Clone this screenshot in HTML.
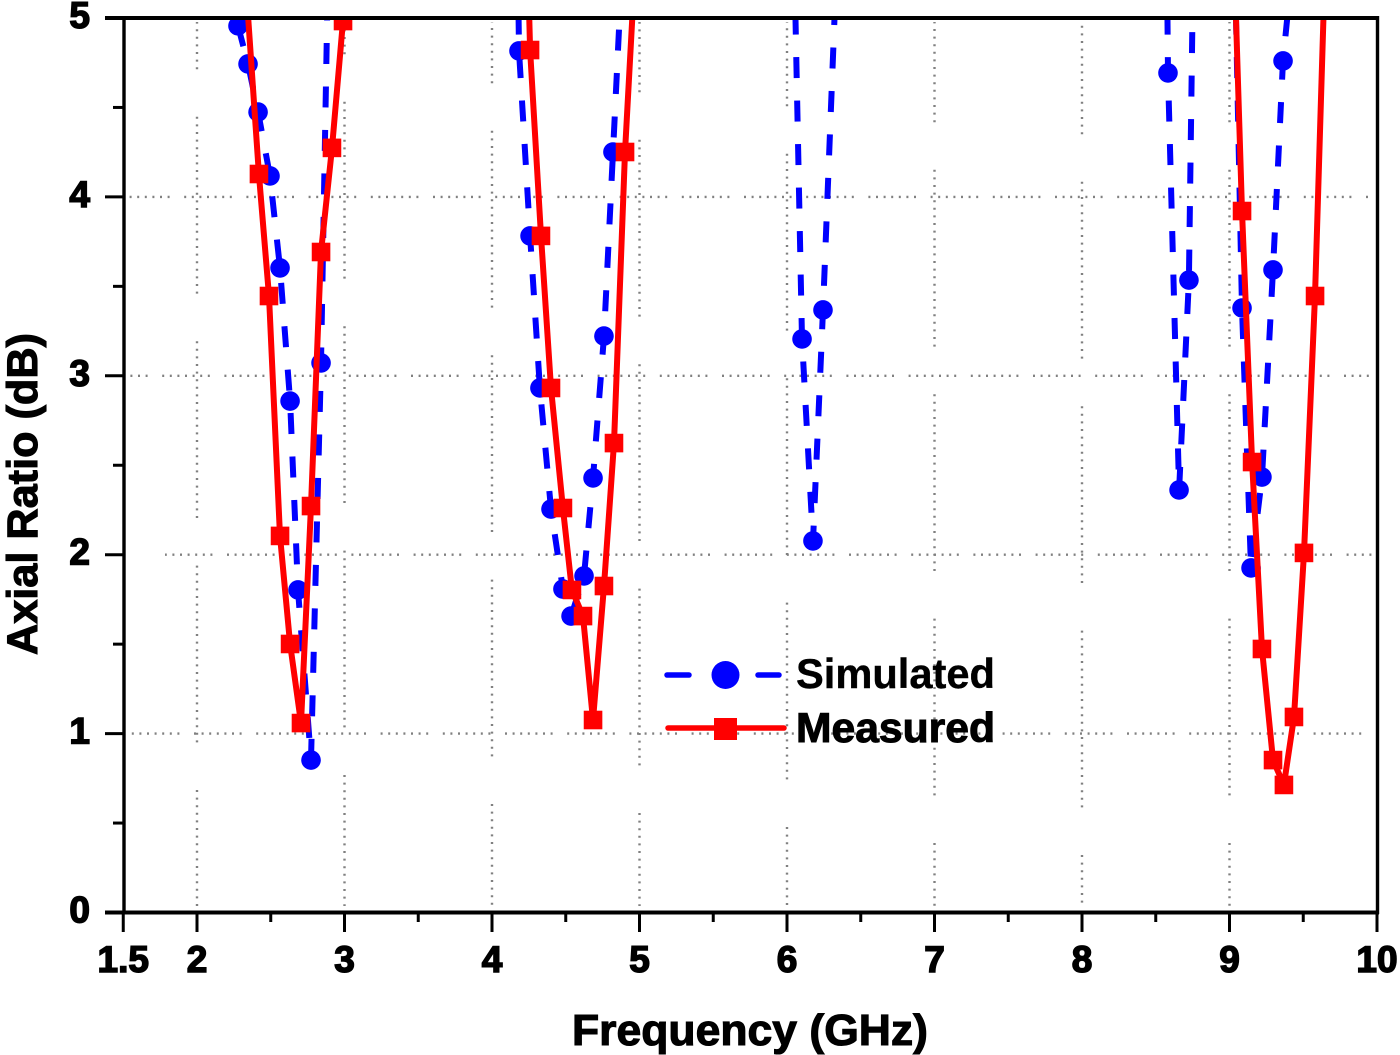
<!DOCTYPE html>
<html lang="en">
<head>
<meta charset="utf-8">
<title>Axial Ratio vs Frequency</title>
<style>
html,body{margin:0;padding:0;background:#fff;}
#chart{display:block;width:1400px;height:1055px;}
text{font-family:"Liberation Sans",Arial,sans-serif;font-weight:bold;fill:#000;}
</style>
</head>
<body>
<svg id="chart" xmlns="http://www.w3.org/2000/svg" width="1400" height="1055" viewBox="0 0 1400 1055">
  <defs>
    <clipPath id="plot-clip"><rect x="124" y="18" width="1253" height="895"></rect></clipPath>
  </defs>
  <g id="grid"></g>
  <g id="series" clip-path="url(#plot-clip)"></g>
  <g id="axes"></g>
  <g>
    <g>
      <line x1="667" y1="675" x2="689" y2="675" stroke="#0000ff" stroke-width="5.5" stroke-linecap="round"></line>
      <line x1="758" y1="675" x2="779" y2="675" stroke="#0000ff" stroke-width="5.5" stroke-linecap="round"></line>
      <circle cx="725.5" cy="675" r="14" fill="#0000ff"></circle>
      <text x="796" y="688" font-size="42" stroke="#000" stroke-width="0.4" textLength="199" lengthAdjust="spacingAndGlyphs">Simulated</text>
    </g>
    <g>
      <line x1="668" y1="728" x2="784" y2="728" stroke="#ff0000" stroke-width="5.5" stroke-linecap="round"></line>
      <rect x="714" y="718" width="23" height="22" fill="#ff0000"></rect>
      <text x="796" y="742" font-size="42" stroke="#000" stroke-width="1" textLength="199" lengthAdjust="spacingAndGlyphs">Measured</text>
    </g>
  </g>
</svg>
<script>
// Axis ranges and ticks
const xMajorTicks = [1.5, 2, 3, 4, 5, 6, 7, 8, 9, 10];
const xTickLabels = ['1.5', '2', '3', '4', '5', '6', '7', '8', '9', '10'];
const xMinorTicks = [2.5, 3.5, 4.5, 5.5, 6.5, 7.5, 8.5, 9.5];
const yMajorTicks = [0, 1, 2, 3, 4, 5];
const yTickLabels = ['0', '1', '2', '3', '4', '5'];
const yMinorTicks = [0.5, 1.5, 2.5, 3.5, 4.5];
const xGridValues = [2, 3, 4, 5, 6, 7, 8, 9];
const yGridValues = [1, 2, 3, 4];

// Simulated axial ratio: frequency (GHz) and AR (dB), one pair per band
const simBand1Freq = [2.278, 2.346, 2.414, 2.495, 2.563, 2.631, 2.685, 2.773, 2.841, 2.888];
const simBand1AR   = [4.956, 4.743, 4.474, 4.117, 3.603, 2.859, 1.803, 0.852, 3.072, 5.268];
const simBand2Freq = [4.176, 4.183, 4.258, 4.325, 4.400, 4.481, 4.536, 4.624, 4.685, 4.759, 4.820, 4.881];
const simBand2AR   = [5.268, 4.816, 3.782, 2.932, 2.255, 1.808, 1.657, 1.881, 2.429, 3.222, 4.251, 5.268];
const simBand3Freq = [6.051, 6.102, 6.176, 6.244, 6.332];
const simBand3AR   = [5.268, 3.206, 2.077, 3.368, 5.212];
const simBand4Freq = [8.576, 8.583, 8.658, 8.725, 8.753];
const simBand4AR   = [5.268, 4.693, 2.362, 3.535, 5.268];
const simBand5Freq = [9.037, 9.085, 9.146, 9.220, 9.295, 9.363, 9.424];
const simBand5AR   = [5.268, 3.379, 1.926, 2.434, 3.592, 4.760, 5.268];

// Measured axial ratio
const measBand1Freq = [2.325, 2.420, 2.488, 2.563, 2.631, 2.705, 2.773, 2.841, 2.915, 2.990];
const measBand1AR   = [5.268, 4.128, 3.446, 2.105, 1.501, 1.059, 2.272, 3.692, 4.274, 4.983];
const measBand2Freq = [4.244, 4.258, 4.332, 4.400, 4.481, 4.542, 4.617, 4.685, 4.759, 4.827, 4.902, 4.969];
const measBand2AR   = [5.268, 4.821, 3.782, 2.932, 2.261, 1.803, 1.657, 1.076, 1.825, 2.624, 4.251, 5.268];
const measBand3Freq = [9.034, 9.085, 9.153, 9.220, 9.295, 9.369, 9.437, 9.505, 9.580, 9.647];
const measBand3AR   = [5.268, 3.921, 2.518, 1.473, 0.852, 0.713, 1.093, 2.010, 3.446, 5.268];

const simulatedBands = [[simBand1Freq, simBand1AR], [simBand2Freq, simBand2AR], [simBand3Freq, simBand3AR], [simBand4Freq, simBand4AR], [simBand5Freq, simBand5AR]];
const measuredBands = [[measBand1Freq, measBand1AR], [measBand2Freq, measBand2AR], [measBand3Freq, measBand3AR]];

const NS = 'http://www.w3.org/2000/svg';
function xScale(f) { return 197 + (f - 2) * 147.5; }
function yScale(v) { return 912.5 - v * 178.9; }
function make(tag, attrs, parent) {
  const el = document.createElementNS(NS, tag);
  for (const k in attrs) el.setAttribute(k, attrs[k]);
  parent.appendChild(el);
  return el;
}

const gridG = document.getElementById('grid');
const seriesG = document.getElementById('series');
const axesG = document.getElementById('axes');

// Dotted grid broken into runs of dots
function dottedPattern(count, gap) {
  const parts = [];
  for (let i = 0; i < count; i++) {
    parts.push(2);
    parts.push(i === count - 1 ? gap : 5.6);
  }
  return parts.join(' ');
}
const vPhase = { 2: 122, 3: 107, 4: 136, 5: 145, 6: 159, 7: 175, 8: 187, 9: 175 };
const hPhase = { 1: 132, 2: 165, 3: 100, 4: 122 };
xGridValues.forEach(function (g) {
  const x = xScale(g);
  const ln = make('line', { x1: x, y1: 22, x2: x, y2: 906, stroke: '#808080', 'stroke-width': 2.4,
    'stroke-dasharray': dottedPattern(24, 47.6), 'stroke-dashoffset': 229.6 - ((vPhase[g] - 22) % 229.6) }, gridG);
  
  
});
yGridValues.forEach(function (g) {
  const y = yScale(g);
  const start = g === 2 ? 165 : 128;
  const ln = make('line', { x1: start, y1: y, x2: 1372, y2: y, stroke: '#808080', 'stroke-width': 2.4,
    'stroke-dasharray': dottedPattern(7, 14.6), 'stroke-dashoffset': 62.4 - ((hPhase[g] - start + 624) % 62.4) }, gridG);
  
  
});

// Series
function pathFor(freqs, ars) {
  return freqs.map(function (f, i) { return (i ? 'L' : 'M') + xScale(f).toFixed(1) + ' ' + yScale(ars[i]).toFixed(1); }).join(' ');
}
simulatedBands.forEach(function (band) {
  const p = make('path', { d: pathFor(band[0], band[1]), fill: 'none', stroke: '#0000ff', 'stroke-width': 6,
    'stroke-dasharray': '21 22.5', 'stroke-linejoin': 'round' }, seriesG);
  
  
  band[0].forEach(function (f, i) {
    const c = make('circle', { cx: xScale(f), cy: yScale(band[1][i]), r: 9.8, fill: '#0000ff' }, seriesG);
    
    
  });
});
measuredBands.forEach(function (band) {
  const p = make('path', { d: pathFor(band[0], band[1]), fill: 'none', stroke: '#ff0000', 'stroke-width': 6,
    'stroke-linejoin': 'round' }, seriesG);
  
  
  band[0].forEach(function (f, i) {
    const r = make('rect', { x: xScale(f) - 9.3, y: yScale(band[1][i]) - 9.3, width: 18.6, height: 18.6, fill: '#ff0000' }, seriesG);
    
    
  });
});

// Axis frame
const frameLeft = make('line', { x1: 124, y1: 16, x2: 124, y2: 914, stroke: '#000', 'stroke-width': 3.4 }, axesG);


const frameBottom = make('line', { x1: 105, y1: 912.5, x2: 1379, y2: 912.5, stroke: '#000', 'stroke-width': 4 }, axesG);


const frameTop = make('line', { x1: 105, y1: 18, x2: 1379, y2: 18, stroke: '#000', 'stroke-width': 4 }, axesG);


const frameRight = make('line', { x1: 1377.5, y1: 16, x2: 1377.5, y2: 914, stroke: '#000', 'stroke-width': 3.4 }, axesG);



// X ticks
xMajorTicks.forEach(function (v, i) {
  const x = xScale(v);
  const t = make('line', { x1: x, y1: 912, x2: x, y2: 932, stroke: '#000', 'stroke-width': 3 }, axesG);
  
  
  const lb = make('text', { x: x, y: 972, 'font-size': 37, 'text-anchor': 'middle', stroke: '#000', 'stroke-width': 1.5 }, axesG);
  lb.textContent = xTickLabels[i];
  
  
});
xMinorTicks.forEach(function (v) {
  const x = xScale(v);
  const t = make('line', { x1: x, y1: 912, x2: x, y2: 922, stroke: '#000', 'stroke-width': 3 }, axesG);
  
  
});

// Y ticks
yMajorTicks.forEach(function (v, i) {
  const y = yScale(v);
  const t = make('line', { x1: 105, y1: y, x2: 124, y2: y, stroke: '#000', 'stroke-width': 3 }, axesG);
  
  
  const lb = make('text', { x: 90, y: y + 10, 'font-size': 37, 'text-anchor': 'end', stroke: '#000', 'stroke-width': 1.5 }, axesG);
  lb.textContent = yTickLabels[i];
  
  
});
yMinorTicks.forEach(function (v) {
  const y = yScale(v);
  const t = make('line', { x1: 113, y1: y, x2: 124, y2: y, stroke: '#000', 'stroke-width': 3 }, axesG);
  
  
});

// Axis titles
const xTitle = make('text', { x: 572, y: 1045, 'font-size': 44, stroke: '#000', 'stroke-width': 1.1, textLength: 356, lengthAdjust: 'spacingAndGlyphs' }, axesG);
xTitle.textContent = 'Frequency (GHz)';


const yTitle = make('text', { x: 0, y: 0, transform: 'translate(37 655) rotate(-90)', 'font-size': 43, stroke: '#000', 'stroke-width': 1.1, textLength: 322, lengthAdjust: 'spacingAndGlyphs' }, axesG);
yTitle.textContent = 'Axial Ratio (dB)';


</script>
</body>
</html>
